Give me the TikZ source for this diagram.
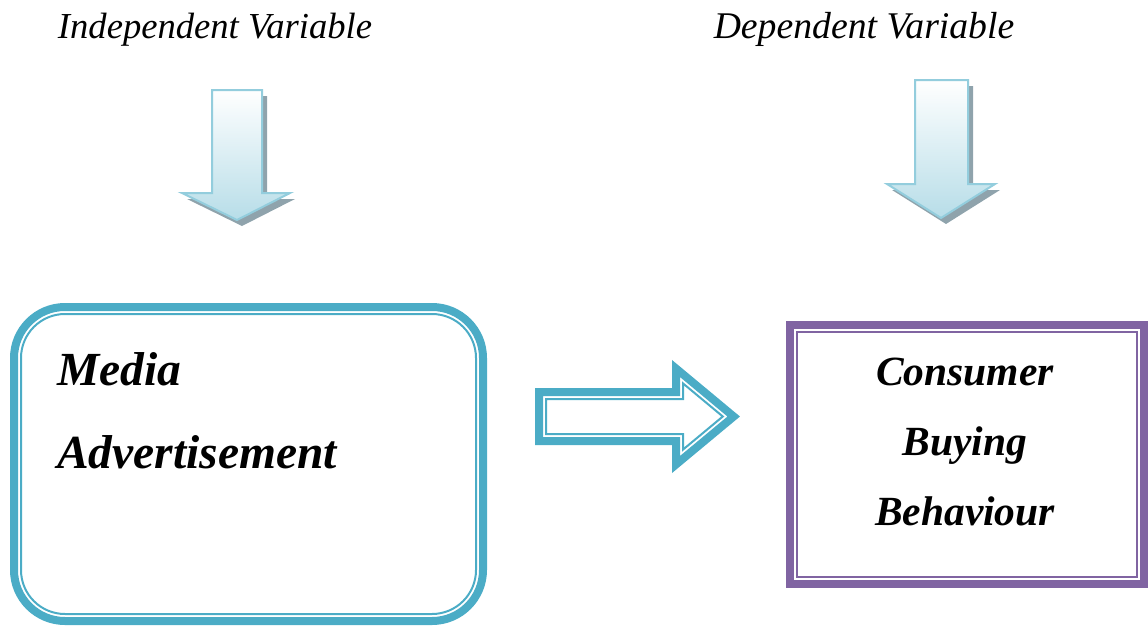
\documentclass[tikz,border=0pt]{standalone}
\usepackage{fontspec}
\setmainfont{Liberation Serif}
\definecolor{tealc}{HTML}{4BACC6}
\definecolor{purpc}{HTML}{8064A2}
\definecolor{arrline}{HTML}{93CDDD}
\definecolor{arrfill}{HTML}{B7DDE8}
\definecolor{shadowc}{RGB}{143,163,172}
\tikzset{
  headlbl/.style={font=\itshape, inner sep=0pt, anchor=base},
  boxlbl/.style={font=\bfseries\itshape, inner sep=0pt},
  downarrow/.style={draw=arrline, line width=2pt, top color=white, bottom color=arrfill, line join=miter},
  downshadow/.style={fill=shadowc, shift={(5,6)}},
}
\begin{document}
\begin{tikzpicture}[x=1pt,y=-1pt]
\useasboundingbox (0,0) rectangle (1148,626);

% headings
\node[headlbl, font=\itshape\fontsize{36.6}{40}\selectfont] (indep) at (215,38) {Independent Variable};
\node[headlbl, font=\itshape\fontsize{37.7}{40}\selectfont] (dep) at (864,38) {Dependent Variable};

% left down arrow
\path[downshadow] (212,90) -- (262,90) -- (262,193) -- (290,193) -- (237,220) -- (182,193) -- (212,193) -- cycle;
\path[downarrow] (212,90) -- (262,90) -- (262,193) -- (290,193) -- (237,220) -- (182,193) -- (212,193) -- cycle;

% right down arrow
\path[downshadow] (915,80) -- (968,80) -- (968,184) -- (995,184) -- (941,218) -- (887,184) -- (915,184) -- cycle;
\path[downarrow] (915,80) -- (968,80) -- (968,184) -- (995,184) -- (941,218) -- (887,184) -- (915,184) -- cycle;

% left box
\node[draw=tealc, line width=8pt, rounded corners=51pt, minimum width=469pt, minimum height=314pt, inner sep=0pt] (mediabox) at (248.5,464) {};
\node[draw=tealc, line width=2pt, rounded corners=44pt, minimum width=455pt, minimum height=300pt, inner sep=0pt] (mediainner) at (mediabox.center) {};
\node[boxlbl, font=\bfseries\itshape\fontsize{47.5}{50}\selectfont, anchor=base west] (media) at (57,385) {Media};
\node[boxlbl, font=\bfseries\itshape\fontsize{47.5}{50}\selectfont, anchor=base west] (advert) at (57,468) {Advertisement};

% right box
\node[draw=purpc, line width=8pt, line join=miter, minimum width=354pt, minimum height=259pt, inner sep=0pt] (cbbox) at (967,454.5) {};
\node[draw=purpc, line width=2pt, line join=miter, minimum width=340pt, minimum height=245pt, inner sep=0pt] (cbinner) at (cbbox.center) {};
\node[boxlbl, font=\bfseries\itshape\fontsize{41.5}{45}\selectfont, anchor=base] (consumer) at (965,385) {Consumer};
\node[boxlbl, font=\bfseries\itshape\fontsize{41.5}{45}\selectfont, anchor=base] (buying) at (965,455) {Buying};
\node[boxlbl, font=\bfseries\itshape\fontsize{41.5}{45}\selectfont, anchor=base] (behav) at (965,525) {Behaviour};

% middle block arrow
\draw[tealc, line width=8pt, line join=miter] (539,392) -- (676,392) -- (676,368.5) -- (733.7,416.5) -- (676,464.5) -- (676,441) -- (539,441) -- cycle;
\draw[tealc, line width=2pt, line join=miter] (546,399) -- (683,399) -- (683,383.4) -- (722.8,416.5) -- (683,449.6) -- (683,434) -- (546,434) -- cycle;
\end{tikzpicture}
\end{document}
